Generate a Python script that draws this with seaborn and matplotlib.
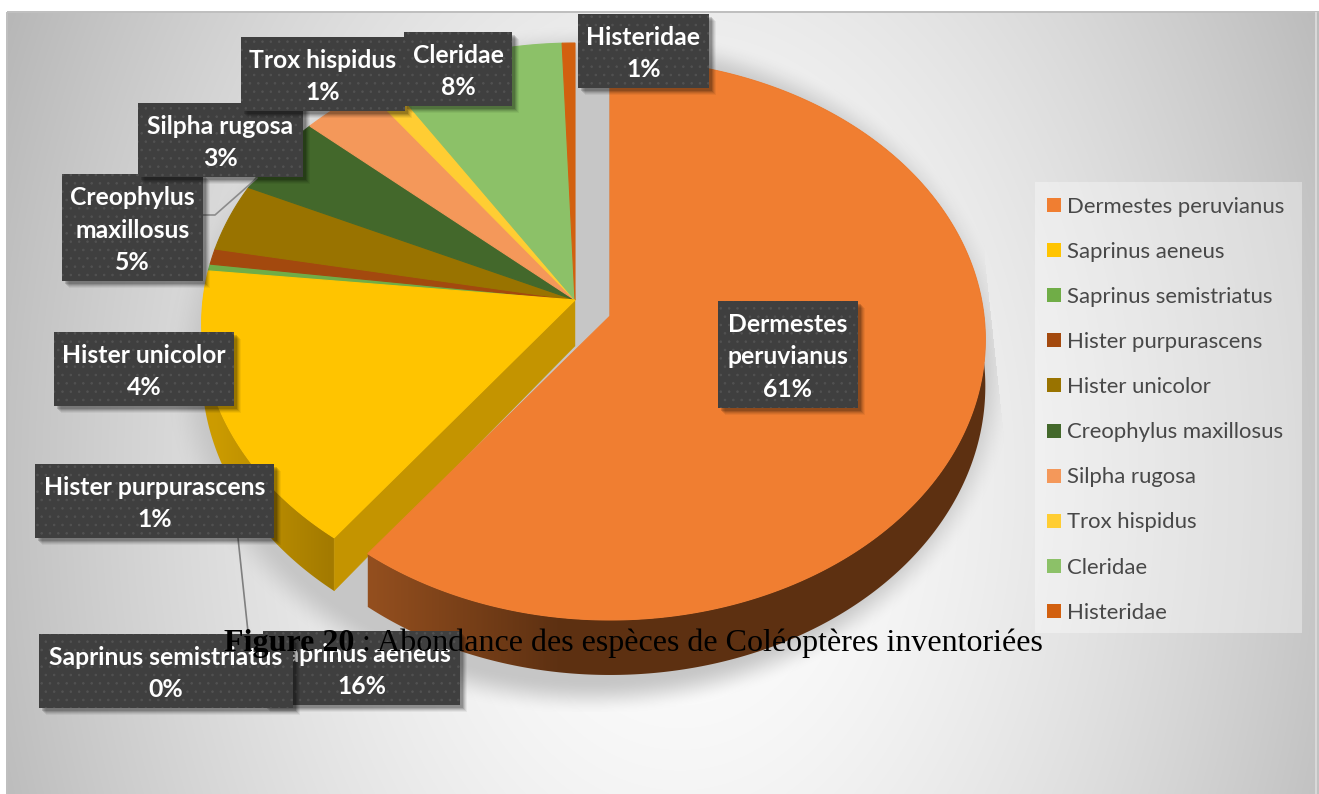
import numpy as np
import matplotlib
matplotlib.use("Agg")
import matplotlib.pyplot as plt
import seaborn as sns
from matplotlib.patches import Patch, Polygon, Rectangle

# Abundance of the beetle species (percent of the inventory)
species = ["Dermestes peruvianus", "Saprinus aeneus", "Saprinus semistriatus",
           "Hister purpurascens", "Hister unicolor", "Creophylus maxillosus",
           "Silpha rugosa", "Trox hispidus", "Cleridae", "Histeridae"]
abundance = [60.51, 16.4, 0.4, 0.9, 3.9, 4.6, 3.4, 1.1, 8.49, 0.6]
slice_colors = ["#F07E31", "#FFC400", "#70AD47", "#A3490E", "#997300",
                "#43682B", "#F4985A", "#FFCD33", "#8CC168", "#D2600F"]

# Label text per species, with the box each one sits in (left, right, top, bottom)
label_names = ["Dermestes\nperuvianus", "Saprinus aeneus", "Saprinus semistriatus",
               "Hister purpurascens", "Hister unicolor", "Creophylus\nmaxillosus",
               "Silpha rugosa", "Trox hispidus", "Cleridae", "Histeridae"]
label_boxes = [(718, 858, 301, 408), (263, 460, 631, 705), (39, 293, 634, 708),
               (35, 274, 464, 538), (54, 234, 332, 406), (62, 203, 174, 281),
               (138, 303, 103, 177), (241, 405, 37, 111), (404, 512, 32, 106),
               (578, 709, 14, 88)]
caption_bold = "Figure 20"
caption_rest = " : Abondance des espèces de Coléoptères inventoriées"

sns.set_theme(style="white")
palette = sns.color_palette(slice_colors)
plt.rcParams["hatch.linewidth"] = 0.6

W, H = 1319, 794
fig = plt.figure(figsize=(W / 100, H / 100), dpi=100)
ax = fig.add_axes([0, 0, 1, 1])

# The pie supplies the slice angles; they are re-projected in perspective below.
wedges, _ = ax.pie(abundance, startangle=90, counterclock=False, colors=palette)
angles = [(w.theta1, w.theta2) for w in wedges]
for w in wedges:
    w.remove()

ax.set_aspect("auto")
ax.set_xlim(0, W)
ax.set_ylim(H, 0)
ax.axis("off")

# Panel background: soft radial grey
xx, yy = np.meshgrid(np.arange(W) + 0.5, np.arange(H) + 0.5)
dist = np.clip(np.hypot((xx - 680) / 700, (yy - 480) / 1000), 0, 1.15)
grey = (255 - 65 * dist ** 1.6) / 255
panel = np.dstack([grey, grey, grey, np.ones_like(grey)])
panel[:12, :] = 1
panel[:, :7] = 1
panel[11:13, 7:, :3] = 0.75
panel[12:, 6:8, :3] = 0.75
panel[12:, 1315:1317, :3] = 0.85
ax.imshow(panel, extent=(0, W, H, 0), aspect="auto", zorder=0, interpolation="nearest")

# Soft drop shadow beneath the pie
r = np.hypot((xx - 590) / 425, (yy - 370) / 345)
edge = np.clip((1.0 - r) / 0.10, 0, 1)
edge = edge * edge * (3 - 2 * edge)
edge[yy > 712] = 0
edge[xx > 985 + np.clip(yy - 260, 0, None) * 27 / 250] = 0
shadow = np.dstack([np.full_like(grey, 0.775)] * 3 + [edge * 0.97])
ax.imshow(shadow, extent=(0, W, H, 0), aspect="auto", zorder=1, interpolation="bilinear")


def project(theta1, theta2, cx, cy, radius=372):
    """Perspective arc of one slice: arc points and the extrusion depth at each."""
    t = np.radians(np.linspace(theta1, theta2, max(int(abs(theta2 - theta1) * 2), 4)))
    ux, uy = np.cos(t), np.sin(t)
    w = 1 + 0.0838 * uy
    return np.column_stack([cx + radius * ux / w, cy - 278.5 * uy / w]), 46 - 9 * uy


def gradient_wall(arc, depth, x0, x1, c0, c1, z):
    """Outer wall of a slice, shaded left to right and clipped to its outline."""
    bottom = arc + np.column_stack([np.zeros_like(depth), depth])
    outline = Polygon(np.vstack([arc, bottom[::-1]]), closed=True, facecolor="none",
                      edgecolor="none", transform=ax.transData)
    ax.add_patch(outline)
    f = np.clip((np.arange(W) + 0.5 - x0) / (x1 - x0), 0, 1)[None, :, None]
    strip = (1 - f) * np.array(c0)[None, None, :] + f * np.array(c1)[None, None, :]
    im = ax.imshow(strip, extent=(0, W, H, 0), aspect="auto", zorder=z,
                   interpolation="bilinear")
    im.set_clip_path(outline)


def draw_slice(i, cx, cy, z, radius=372):
    arc, depth = project(*angles[i], cx, cy, radius)
    apex = np.array([cx, cy], dtype=float)
    if i == 0:
        gradient_wall(arc, depth, 370, 560, (0.58, 0.31, 0.12), (0.365, 0.19, 0.07), z)
        ax.plot([cx, cx], [arc[-1][1] + 4, cy], color="#6b4a2a", lw=1.0, zorder=z + 0.2)
    if i == 1:
        gradient_wall(arc, depth, 215, 330, (0.80, 0.61, 0.0), (0.64, 0.48, 0.0), z)
        # Radial cut facing the detached slice
        end = arc[-1]
        wall = [apex, end, end + [0, depth[-1]], apex + [0, 46]]
        ax.add_patch(Polygon(wall, closed=True, facecolor="#C49400", edgecolor="#C49400",
                             linewidth=0.3, zorder=z + 0.2))
    ax.add_patch(Polygon(np.vstack([apex, arc]), closed=True, facecolor=palette[i],
                         edgecolor=palette[i], linewidth=0.8, zorder=z + 0.5))


# Back slices first, then the yellow one, and the detached main slice in front
for i in range(2, len(species)):
    draw_slice(i, 575, 300, 3)
draw_slice(1, 575, 300, 4)
draw_slice(0, 610, 316, 5, radius=374)

# Leader lines
ax.plot([203, 215, 257], [215, 215, 178], color="#8c8c8c", lw=1.2, zorder=6)
ax.plot([238, 248], [538, 632], color="#7f7f7f", lw=1.2, zorder=6)


def label(i, z):
    x0, x1, y0, y1 = label_boxes[i]
    for off, a in ((7, 0.05), (6, 0.07), (5, 0.09), (4, 0.12), (3, 0.15)):
        ax.add_patch(Rectangle((x0 + off, y0 + off), x1 - x0, y1 - y0, facecolor="#000000",
                               alpha=a, linewidth=0, zorder=z))
    ax.add_patch(Rectangle((x0, y0), x1 - x0, y1 - y0, facecolor="#3f3f3f", linewidth=0,
                           zorder=z + 0.1))
    ax.add_patch(Rectangle((x0, y0), x1 - x0, y1 - y0, facecolor="none", edgecolor="#525252",
                           hatch="..", linewidth=0, zorder=z + 0.2))
    ax.text((x0 + x1) / 2, (y0 + y1) / 2 + 2.5,
            f"{label_names[i]}\n{abundance[i]:.0f}%", ha="center", va="center",
            family="Lato", weight="bold", fontsize=17.8, color="white",
            linespacing=1.5, zorder=z + 0.3)


# Stacking order of the overlapping boxes
for z, i in enumerate(range(len(species))):
    label(i, 7 + z)

# Legend on a translucent panel
ax.add_patch(Rectangle((1035, 182), 267, 451, facecolor="white", alpha=0.35, linewidth=0,
                       zorder=2))
handles = [Patch(facecolor=c, edgecolor="none") for c in palette]
fs = 15.9
leg = ax.legend(handles, species, loc="upper left", bbox_to_anchor=(1047 / W, 1 - 197 / H),
                bbox_transform=ax.transAxes, frameon=False,
                prop={"family": "Lato", "size": fs}, labelcolor="#484848",
                handlelength=0.634, handleheight=0.598, handletextpad=0.27,
                labelspacing=1.135, borderpad=0, borderaxespad=0)
leg.set_zorder(3)

# Caption in two weights
t1 = ax.text(224, 651, caption_bold, family="Liberation Serif", weight="bold", fontsize=23.0,
             color="black", ha="left", va="baseline", zorder=30)
fig.canvas.draw()
bb = t1.get_window_extent()
ax.text(bb.x1, 651, caption_rest, family="Liberation Serif", fontsize=23.0, color="black",
        ha="left", va="baseline", zorder=30)

fig.savefig("out.png", dpi=100)
